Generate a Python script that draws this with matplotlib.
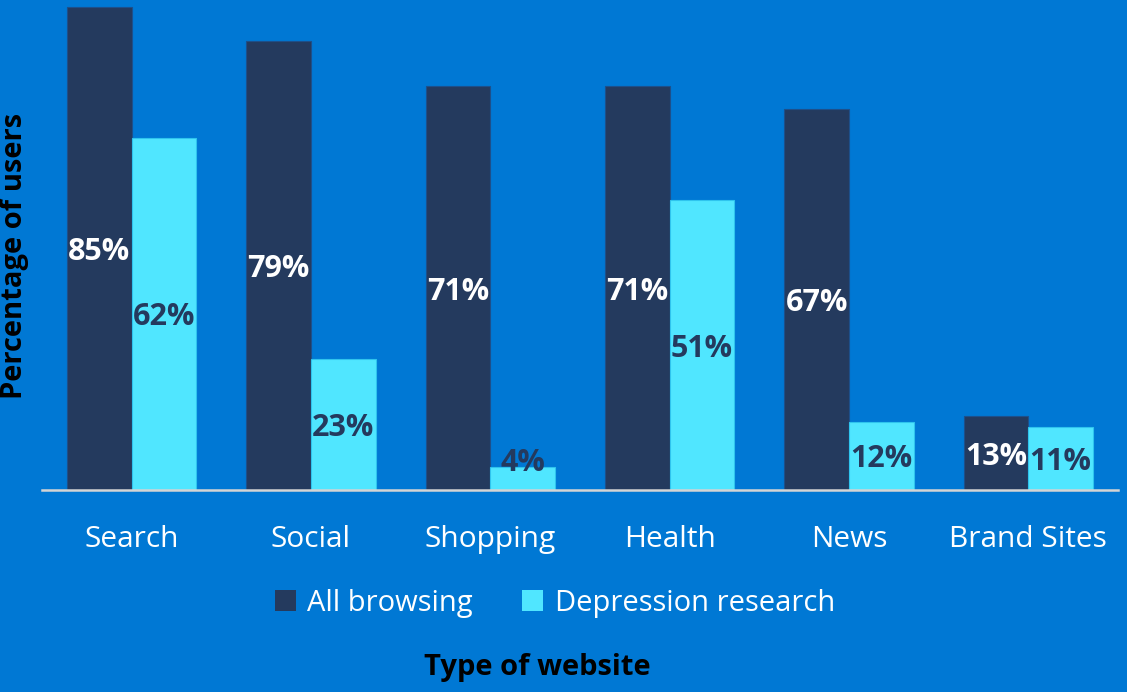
import matplotlib.pyplot as plt
import numpy as np
from matplotlib.patches import Patch

plt.rcParams['font.family'] = ['Open Sans', 'DejaVu Sans']

categories = ['Search', 'Social', 'Shopping', 'Health', 'News', 'Brand Sites']
all_browsing = [85, 79, 71, 71, 67, 13]
depression = [62, 23, 4, 51, 12, 11]

bg = '#0078D4'
dark = '#243A5E'
light = '#50E6FF'

fig = plt.figure(figsize=(11.27, 6.92), dpi=100, facecolor=bg)
ax = fig.add_axes([0.0373, 0.2919, 0.9547, 0.708])
ax.set_facecolor(bg)

x = np.arange(len(categories))
w = 0.36
b1 = ax.bar(x - w / 2, all_browsing, w, color=dark, edgecolor='#1d4f8a', linewidth=0.8)
b2 = ax.bar(x + w / 2, depression, w, color=light, edgecolor='#2fc4ee', linewidth=0.8)

# labels sit mid-bar, but never closer to the axis than a few points
def label_y(v):
    return max(v / 2, 5.3)

for rect, v in zip(b1, all_browsing):
    ax.text(rect.get_x() + rect.get_width() / 2, label_y(v), f'{v}%', ha='center',
            va='center_baseline', color='white', fontsize=22, fontweight='bold')
for rect, v in zip(b2, depression):
    ax.text(rect.get_x() + rect.get_width() / 2, label_y(v), f'{v}%', ha='center',
            va='center_baseline', color=dark, fontsize=22, fontweight='bold')

ax.set_xlim(-0.5, 5.5)
ax.set_ylim(0, 86.2)
for s in ['top', 'right', 'left']:
    ax.spines[s].set_visible(False)
ax.spines['bottom'].set_color('#d4d4d4')
ax.spines['bottom'].set_linewidth(1.8)
ax.set_yticks([])
ax.set_xticks(x)
ax.set_xticklabels(categories, fontsize=21.5, color='white')
ax.tick_params(axis='x', length=0, pad=25)

handles = [Patch(facecolor=dark, label='All browsing'),
           Patch(facecolor=light, label='Depression research')]
fig.legend(handles=handles, loc='center', bbox_to_anchor=(555 / 1127, 1 - 603 / 692), ncol=2,
           frameon=False, fontsize=21, labelcolor='white', handlelength=0.72, handleheight=0.72,
           handletextpad=0.4, columnspacing=1.7)

fig.text(537 / 1127, 1 - 668 / 692, 'Type of website', ha='center', va='center',
         fontsize=21, fontweight='bold', color='black')
fig.text(15 / 1127, 1 - 256 / 692, 'Percentage of users', ha='center', va='center',
         rotation=90, fontsize=21, fontweight='bold', color='black')

fig.savefig('out.png', dpi=100, facecolor=bg)
